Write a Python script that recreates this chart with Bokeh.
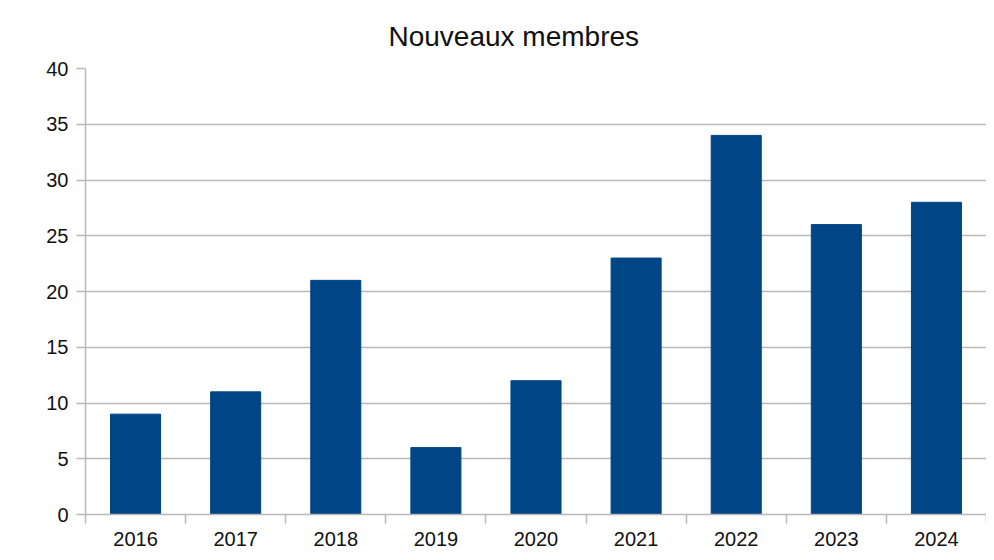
from bokeh.plotting import figure
from bokeh.models import FixedTicker, Range1d, ColumnDataSource
from bokeh.embed import file_html
from bokeh.resources import INLINE

years = ["2016", "2017", "2018", "2019", "2020", "2021", "2022", "2023", "2024"]
members = [9, 11, 21, 6, 12, 23, 34, 26, 28]
y_ticks = [0, 5, 10, 15, 20, 25, 30, 35, 40]

xs = list(range(len(years)))
src = ColumnDataSource(dict(x=xs, top=members, year=years))

p = figure(width=986, height=552, output_backend="svg", toolbar_location=None,
           x_range=Range1d(-0.5, len(years) - 0.5), y_range=Range1d(0, 40),
           min_border_left=85, min_border_right=0, min_border_top=68, min_border_bottom=38)

p.title.text = "Nouveaux membres"
p.title.align = "left"
p.title.offset = 303
p.title.text_font = "Liberation Sans"
p.title.text_font_size = "28px"
p.title.text_font_style = "normal"
p.title.text_color = "#111111"
p.title.standoff = 33

p.vbar(x="x", top="top", width=0.5, bottom=0, source=src, color="#004586")

p.outline_line_color = None
grid_col = "#b8b8b8"

p.yaxis.ticker = FixedTicker(ticks=y_ticks, minor_ticks=[])
p.yaxis.axis_line_color = grid_col
p.yaxis.axis_line_width = 1.5
p.yaxis.major_tick_line_color = grid_col
p.yaxis.major_tick_line_width = 1.5
p.yaxis.major_tick_out = 9
p.yaxis.major_tick_in = 0
p.yaxis.minor_tick_line_color = None
p.yaxis.major_label_text_font = "Liberation Sans"
p.yaxis.major_label_text_font_size = "20px"
p.yaxis.major_label_text_color = "#111111"
p.yaxis.major_label_standoff = 8

bounds = [i - 0.5 for i in range(len(years) + 1)]
p.xaxis.ticker = FixedTicker(ticks=xs, minor_ticks=bounds)
p.xaxis.major_label_overrides = {i: y for i, y in enumerate(years)}
p.xaxis.axis_line_color = grid_col
p.xaxis.axis_line_width = 1.5
p.xaxis.major_tick_line_color = None
p.xaxis.minor_tick_line_color = grid_col
p.xaxis.minor_tick_line_width = 1.5
p.xaxis.minor_tick_out = 9
p.xaxis.minor_tick_in = 0
p.xaxis.major_label_text_font = "Liberation Sans"
p.xaxis.major_label_text_font_size = "20px"
p.xaxis.major_label_text_color = "#111111"
p.xaxis.major_label_standoff = 8

p.xgrid.grid_line_color = None
p.ygrid.grid_line_color = grid_col
p.ygrid.grid_line_width = 1.5

open("out.html", "w").write(file_html(p, INLINE))
